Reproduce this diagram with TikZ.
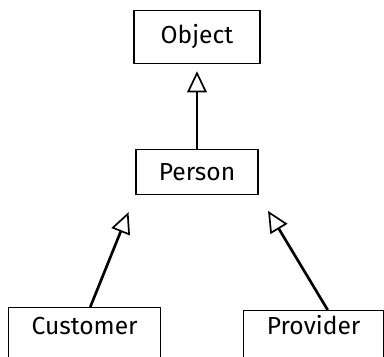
\documentclass[tikz,border=0pt]{standalone}
\usepackage{fontspec}
\setmainfont{Fira Sans}
\usetikzlibrary{arrows.meta}

\tikzset{
  cls/.style={draw,line width=0.9pt,inner sep=0pt,font=\fontsize{17.5}{21}\selectfont},
  inh/.style={line width=1.9pt,-{Triangle[open,length=15pt,width=14pt,line width=1.2pt]}}
}

\begin{document}
\begin{tikzpicture}[x=0.025cm,y=-0.025cm]
  \useasboundingbox (0,0) rectangle (384,357);
  \clip (0,0) rectangle (384,357);
  \node[cls,minimum width=3.15cm,minimum height=1.33cm] (obj) at (197,37) {Object};
  \node[cls,minimum width=3.05cm,minimum height=1.13cm] (pers) at (197,172) {Person};
  % sub classes, cut off by the page edge
  \node[cls,anchor=north west,minimum width=3.8cm,text height=19pt,text depth=16.5pt] (cust) at (8,307) {Customer};
  \node[cls,anchor=north west,minimum width=3.5cm,text height=17pt,text depth=16.4pt] (prov) at (243,310) {Provider};
  \draw[inh,shorten >=5pt] (pers.north) -- (obj.south);
  \draw[inh,shorten >=13pt] ([xshift=4pt]cust.north) -- (pers.south west);
  \draw[inh,shorten >=13pt] ([xshift=10pt]prov.north) -- (pers.south east);
\end{tikzpicture}
\end{document}
